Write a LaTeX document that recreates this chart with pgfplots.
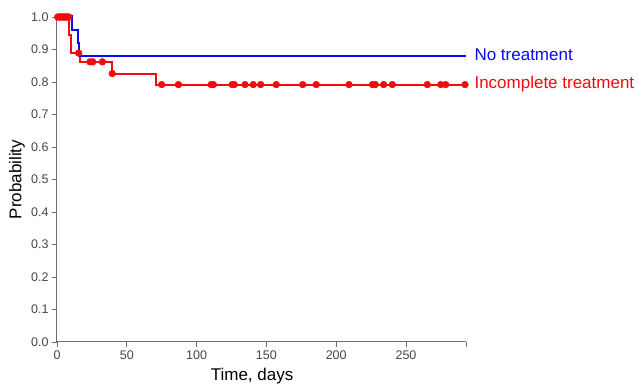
\documentclass[border=0pt]{standalone}
\usepackage{pgfplots}
\pgfplotsset{compat=1.18}
\usepackage{fontspec}
\setmainfont{Liberation Sans}
\definecolor{kmred}{RGB}{245,10,10}
\definecolor{kmblue}{RGB}{10,10,245}
\definecolor{axgray}{RGB}{110,110,110}
\definecolor{lblgray}{RGB}{70,70,70}
\begin{document}
\begin{tikzpicture}[x=1pt,y=1pt]
\useasboundingbox (0,0) rectangle (638,385);
\begin{axis}[
  at={(57pt,43pt)}, anchor=south west,
  scale only axis, width=409pt, height=325pt,
  xmin=0, xmax=293, ymin=0, ymax=1,
  axis x line=bottom, axis y line=left,
  axis line style={-, axgray, line width=1pt},
  xtick={0,50,100,150,200,250},
  ytick={0,0.1,0.2,0.3,0.4,0.5,0.6,0.7,0.8,0.9,1.0},
  extra x ticks={293}, extra x tick labels={},
  tick align=outside, major tick length=5pt,
  tick style={axgray, line width=0.8pt},
  y tick label style={/pgf/number format/.cd, fixed, fixed zerofill, precision=1},
  /pgf/number format/assume math mode=true,
  tick label style={font=\fontsize{12.5}{14}\selectfont, color=lblgray},
  xlabel={Time, days}, ylabel={Probability},
  xlabel style={at={(axis description cs:0.477,-0.117)}, anchor=base, font=\fontsize{17}{19}\selectfont},
  ylabel style={at={(axis description cs:-0.098,0.5)}, anchor=center, font=\fontsize{17}{19}\selectfont},
  clip=false,
]
% Incomplete treatment (step)
\addplot[draw=kmred, line width=2pt, mark=none] coordinates {
 (0,1.0) (8.8,1.0) (8.8,0.946) (10,0.946) (10,0.889) (16.5,0.889) (16.5,0.862)
 (39.2,0.862) (39.2,0.826) (70.7,0.826) (70.7,0.792) (293,0.792)
};
% censor marks
\addplot[only marks, mark=*, mark size=3.4pt, color=kmred] coordinates {
 (0.5,1.0) (1.5,1.0) (2.5,1.0) (3.5,1.0) (4.5,1.0) (5.5,1.0) (6.5,1.0) (7.5,1.0) (8.5,1.0)
 (15.5,0.889)
 (23.6,0.862) (25.6,0.862) (32.5,0.862)
 (39.6,0.826)
 (75,0.792) (87,0.792) (110.5,0.792) (112,0.792) (125.5,0.792) (127,0.792)
 (134.7,0.792) (140.6,0.792) (145.9,0.792) (157.1,0.792) (176,0.792) (185.7,0.792)
 (209.2,0.792) (226,0.792) (228,0.792) (234,0.792) (240.2,0.792) (265.3,0.792)
 (274.9,0.792) (278.4,0.792) (292.3,0.792)
};
% No treatment (step)
\addplot[draw=kmblue, line width=2pt, mark=none] coordinates {
 (0,1.002) (10.5,1.002) (10.5,0.959) (14.8,0.959) (14.8,0.92) (16,0.92) (16,0.881) (293,0.881)
};
\node[anchor=west, kmblue, font=\fontsize{17}{19}\selectfont, xshift=5pt] at (axis cs:293,0.885) {No treatment};
\node[anchor=west, kmred, font=\fontsize{17}{19}\selectfont, xshift=5pt] at (axis cs:293,0.795) {Incomplete treatment};
\end{axis}
\end{tikzpicture}
\end{document}
